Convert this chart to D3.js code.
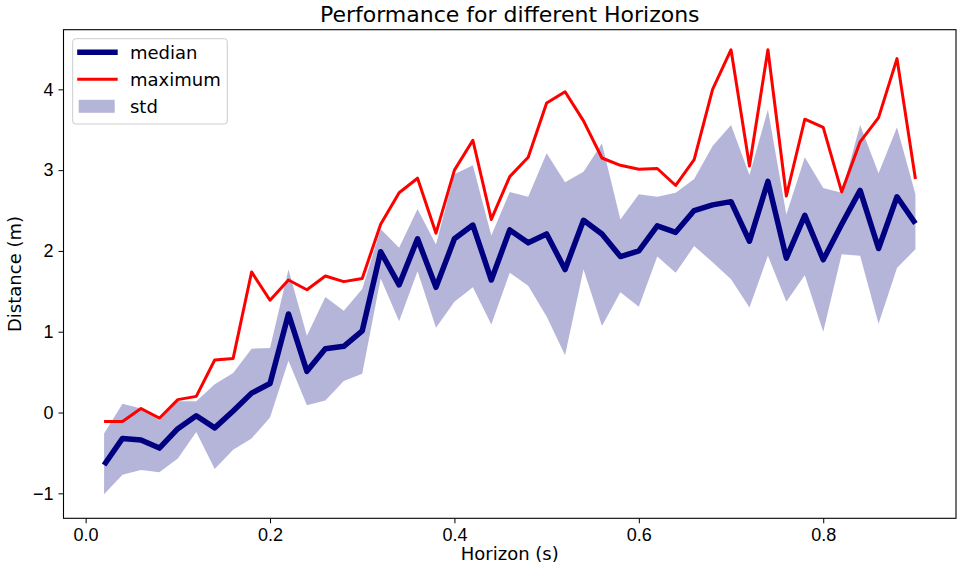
<!DOCTYPE html>
<html>
<head>
<meta charset="utf-8">
<script src="https://cdn.jsdelivr.net/npm/d3@7"></script>
<style>
    body { margin: 0; background: white; }
    svg { font-family: "DejaVu Sans", sans-serif; }
    .axis path, .axis line { stroke: black; }
    .axis text { fill: black; font-size: 18px; }
</style>
</head>
<body>
<svg id="chart"></svg>
<script>
// data
let horizon = [0.02, 0.04, 0.06, 0.08, 0.10, 0.12, 0.14, 0.16, 0.18, 0.20,
    0.22, 0.24, 0.26, 0.28, 0.30, 0.32, 0.34, 0.36, 0.38, 0.40,
    0.42, 0.44, 0.46, 0.48, 0.50, 0.52, 0.54, 0.56, 0.58, 0.60,
    0.62, 0.64, 0.66, 0.68, 0.70, 0.72, 0.74, 0.76, 0.78, 0.80,
    0.82, 0.84, 0.86, 0.88, 0.90];
let median = [-0.65, -0.32, -0.34, -0.44, -0.20, -0.04, -0.19, 0.02, 0.24, 0.36,
    1.22, 0.51, 0.79, 0.82, 1.01, 1.99, 1.58, 2.15, 1.55, 2.15,
    2.32, 1.64, 2.26, 2.10, 2.21, 1.77, 2.38, 2.21, 1.93, 2.00,
    2.31, 2.23, 2.50, 2.57, 2.61, 2.12, 2.86, 1.91, 2.44, 1.89,
    2.33, 2.75, 2.03, 2.67, 2.34];
let maximum = [-0.11, -0.11, 0.05, -0.07, 0.16, 0.20, 0.65, 0.67, 1.74, 1.39,
    1.64, 1.52, 1.69, 1.62, 1.66, 2.33, 2.72, 2.90, 2.22, 3.00,
    3.37, 2.39, 2.92, 3.16, 3.83, 3.97, 3.61, 3.15, 3.06, 3.01,
    3.02, 2.81, 3.13, 4.00, 4.49, 3.05, 4.49, 2.68, 3.63, 3.53,
    2.73, 3.35, 3.65, 4.38, 2.89];
let stdUpper = [-0.26, 0.11, 0.05, -0.10, 0.14, 0.14, 0.35, 0.49, 0.79, 0.80,
    1.77, 0.95, 1.43, 1.26, 1.53, 2.27, 2.04, 2.52, 2.08, 2.95,
    3.06, 2.19, 2.73, 2.67, 3.21, 2.85, 2.98, 3.33, 2.39, 2.70,
    2.67, 2.72, 2.89, 3.30, 3.56, 2.94, 3.75, 2.45, 3.16, 2.78,
    2.72, 3.56, 2.96, 3.53, 2.70];
let stdLower = [-1.01, -0.77, -0.71, -0.74, -0.57, -0.24, -0.70, -0.46, -0.32, -0.06,
    0.64, 0.09, 0.15, 0.39, 0.48, 1.66, 1.13, 1.75, 1.05, 1.37,
    1.55, 1.09, 1.73, 1.57, 1.19, 0.71, 1.77, 1.07, 1.49, 1.31,
    1.93, 1.73, 2.06, 1.86, 1.65, 1.30, 1.94, 1.37, 1.70, 1.00,
    1.96, 1.94, 1.10, 1.79, 2.02];
let xTicks = [0.0, 0.2, 0.4, 0.6, 0.8];
let yTicks = [-1, 0, 1, 2, 3, 4];

let config = {
    svg: { width: 962, height: 572 },
    margin: { top: 29.7, right: 6, bottom: 53.7, left: 63.5 },
    plot: {}
};
config.plot.width = config.svg.width - config.margin.left - config.margin.right;
config.plot.height = config.svg.height - config.margin.top - config.margin.bottom;

let rows = horizon.map((h, i) => ({
    h: h, median: median[i], max: maximum[i], lo: stdLower[i], hi: stdUpper[i]
}));

let svg = d3.select("#chart")
    .attr("width", config.svg.width)
    .attr("height", config.svg.height);

let plot = svg.append("g")
    .attr("transform", translate(config.margin.left, config.margin.top));

// scales (matplotlib style 5% padding)
let x = d3.scaleLinear().domain([-0.024, 0.944]).range([0, config.plot.width]);
let y = d3.scaleLinear().domain([-1.309, 4.738]).range([config.plot.height, 0]);

// std band
plot.append("path")
    .datum(rows)
    .attr("fill", "#000080")
    .attr("fill-opacity", 0.29)
    .attr("d", d3.area().x(d => x(d.h)).y0(d => y(d.lo)).y1(d => y(d.hi)));

// maximum
plot.append("path")
    .datum(rows)
    .attr("fill", "none")
    .attr("stroke", "#ff0000")
    .attr("stroke-width", 3)
    .attr("stroke-linejoin", "round")
    .attr("d", d3.line().x(d => x(d.h)).y(d => y(d.max)));

// median
plot.append("path")
    .datum(rows)
    .attr("fill", "none")
    .attr("stroke", "#000080")
    .attr("stroke-width", 5.5)
    .attr("stroke-linejoin", "round")
    .attr("d", d3.line().x(d => x(d.h)).y(d => y(d.median)));

// axes
let xAxis = d3.axisBottom(x).tickValues(xTicks).tickFormat(d3.format(".1f"))
    .tickSize(5).tickPadding(5);
plot.append("g")
    .attr("class", "axis")
    .attr("transform", translate(0, config.plot.height))
    .call(xAxis);

let yAxis = d3.axisLeft(y).tickValues(yTicks).tickFormat(d => d < 0 ? "\u2212" + Math.abs(d) : d)
    .tickSize(5).tickPadding(5);
plot.append("g")
    .attr("class", "axis")
    .call(yAxis);

plot.selectAll(".axis .domain").remove();

// frame
plot.append("rect")
    .attr("width", config.plot.width)
    .attr("height", config.plot.height)
    .attr("fill", "none")
    .attr("stroke", "black")
    .attr("stroke-width", 1.1);

// labels
svg.append("text")
    .attr("x", config.margin.left + config.plot.width / 2)
    .attr("y", 22)
    .attr("text-anchor", "middle")
    .style("font-size", "22px")
    .text("Performance for different Horizons");

svg.append("text")
    .attr("x", config.margin.left + config.plot.width / 2)
    .attr("y", 560)
    .attr("text-anchor", "middle")
    .style("font-size", "18px")
    .text("Horizon (s)");

svg.append("text")
    .attr("transform", translate(21, config.margin.top + config.plot.height / 2) + " rotate(-90)")
    .attr("text-anchor", "middle")
    .style("font-size", "18px")
    .text("Distance (m)");

// legend
let legend = svg.append("g").attr("transform", translate(72.7, 38.7));
legend.append("rect")
    .attr("width", 154.6)
    .attr("height", 85.3)
    .attr("rx", 3)
    .attr("fill", "white")
    .attr("fill-opacity", 0.8)
    .attr("stroke", "#cccccc");

let items = [
    { name: "median", kind: "line", color: "#000080", width: 5.5 },
    { name: "maximum", kind: "line", color: "#ff0000", width: 3 },
    { name: "std", kind: "patch", color: "#000080" }
];
items.forEach(function(item, i) {
    let cy = 13.6 + i * 27;
    if (item.kind === "line") {
        legend.append("line")
            .attr("x1", 4.5).attr("x2", 45)
            .attr("y1", cy).attr("y2", cy)
            .attr("stroke", item.color)
            .attr("stroke-width", item.width);
    } else {
        legend.append("rect")
            .attr("x", 6).attr("y", cy - 6.5)
            .attr("width", 36).attr("height", 13)
            .attr("fill", item.color)
            .attr("fill-opacity", 0.29);
    }
    legend.append("text")
        .attr("x", 57.3)
        .attr("y", cy + 6.5)
        .style("font-size", "18px")
        .text(item.name);
});

function translate(x, y) {
    return "translate(" + x + "," + y + ")";
}
</script>
</body>
</html>
